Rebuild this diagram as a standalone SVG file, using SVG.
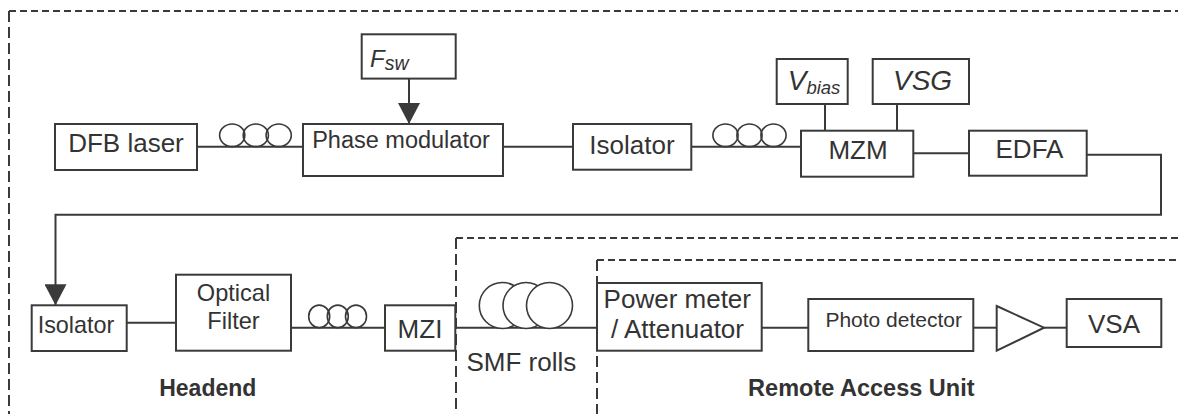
<svg xmlns="http://www.w3.org/2000/svg" width="1178" height="414" viewBox="0 0 1178 414">
<defs>
<style>
.box{fill:#fff;stroke:#3a3a3a;stroke-width:2}
.ln{fill:none;stroke:#3a3a3a;stroke-width:2}
.coil{fill:none;stroke:#3a3a3a;stroke-width:1.6}
.roll{fill:#fff;stroke:#3a3a3a;stroke-width:1.6}
.dh{fill:none;stroke:#3a3a3a;stroke-width:2;stroke-dasharray:7 4}
.dv{fill:none;stroke:#3a3a3a;stroke-width:2;stroke-dasharray:11 5}
text{font-family:"Liberation Sans",Arial,sans-serif;fill:#333;text-anchor:middle}
.it{font-style:italic;text-anchor:start}
.b{font-weight:bold}
</style>
<marker id="arr" markerUnits="userSpaceOnUse" markerWidth="22" markerHeight="22" viewBox="0 0 20 21" refX="20" refY="10.5" orient="auto">
<path d="M0,0 L20,10.5 L0,21 z" fill="#3a3a3a"/>
</marker>
</defs>
<rect width="1178" height="414" fill="#fff"/>

<g id="regions">
<line class="dh" x1="9" y1="11" x2="1178" y2="11"/>
<line class="dv" x1="9" y1="11" x2="9" y2="414"/>
<line class="dh" x1="456" y1="238" x2="1178" y2="238"/>
<line class="dv" x1="456" y1="238" x2="456" y2="414"/>
<line class="dh" x1="597" y1="260" x2="1178" y2="260"/>
<line class="dv" x1="597" y1="260" x2="597" y2="414"/>
</g>

<g id="connectors">
<line class="ln" x1="197" y1="146.7" x2="303" y2="146.7"/>
<line class="ln" x1="409" y1="79" x2="409" y2="124" marker-end="url(#arr)"/>
<line class="ln" x1="503" y1="146.7" x2="573" y2="146.7"/>
<line class="ln" x1="691" y1="146.7" x2="801" y2="146.7"/>
<line class="ln" x1="825" y1="104" x2="825" y2="131"/>
<line class="ln" x1="897" y1="104" x2="897" y2="131"/>
<line class="ln" x1="913" y1="153.3" x2="969" y2="153.3"/>
<path class="ln" d="M1087,154.7 H1161 V214.7 H55.5 V305.3" marker-end="url(#arr)"/>
<line class="ln" x1="127" y1="322.7" x2="176" y2="322.7"/>
<line class="ln" x1="291" y1="327.7" x2="385" y2="327.7"/>
<line class="ln" x1="455" y1="327.7" x2="597" y2="327.7"/>
<line class="ln" x1="762" y1="327.7" x2="808" y2="327.7"/>
<line class="ln" x1="973" y1="327.7" x2="997" y2="327.7"/>
<line class="ln" x1="1044" y1="327.7" x2="1067" y2="327.7"/>
</g>

<g id="coil1">
<ellipse class="coil" cx="232.2" cy="135.3" rx="12.6" ry="11.3"/>
<ellipse class="coil" cx="255.8" cy="135.3" rx="12.6" ry="11.3"/>
<ellipse class="coil" cx="278.7" cy="135.3" rx="12.6" ry="11.3"/>
</g>
<g id="coil2">
<ellipse class="coil" cx="725.5" cy="135.3" rx="12.6" ry="11.3"/>
<ellipse class="coil" cx="749.5" cy="135.3" rx="12.6" ry="11.3"/>
<ellipse class="coil" cx="773.5" cy="135.3" rx="12.6" ry="11.3"/>
</g>
<g id="coil3">
<ellipse class="coil" cx="319.2" cy="316.4" rx="10.5" ry="11.3"/>
<ellipse class="coil" cx="337.8" cy="316.4" rx="10.5" ry="11.3"/>
<ellipse class="coil" cx="356" cy="316.4" rx="10.5" ry="11.3"/>
</g>

<g id="dfb">
<rect class="box" x="55" y="124" width="142" height="46"/>
<text x="126" y="152" font-size="26">DFB laser</text>
</g>
<g id="fsw">
<rect class="box" x="361.7" y="34.3" width="94" height="44.3"/>
<text class="it" x="370" y="66.7" font-size="24">F<tspan font-size="19.5" dy="3.3">sw</tspan></text>
</g>
<g id="phase-modulator">
<rect class="box" x="303" y="124" width="200" height="52"/>
<text x="401" y="148" font-size="23.5">Phase modulator</text>
</g>
<g id="isolator1">
<rect class="box" x="573" y="124" width="118.3" height="45.7"/>
<text x="632" y="154" font-size="26">Isolator</text>
</g>
<g id="vbias">
<rect class="box" x="776.7" y="59" width="71" height="45"/>
<text class="it" x="787.7" y="90" font-size="28">V<tspan font-size="18.5" dy="3.5">bias</tspan></text>
</g>
<g id="vsg">
<rect class="box" x="872.7" y="59" width="96.3" height="45"/>
<text class="it" x="893" y="90" font-size="28">VSG</text>
</g>
<g id="mzm">
<rect class="box" x="801" y="130.7" width="112.3" height="46"/>
<text x="858" y="158.7" font-size="26">MZM</text>
</g>
<g id="edfa">
<rect class="box" x="969" y="130.7" width="117.7" height="45"/>
<text x="1029.5" y="158" font-size="26">EDFA</text>
</g>

<g id="isolator2">
<rect class="box" x="31.7" y="305.3" width="95" height="45.7"/>
<text x="76" y="332.7" font-size="23.4">Isolator</text>
</g>
<g id="optical-filter">
<rect class="box" x="176" y="274.7" width="115" height="76"/>
<text x="233.5" y="301" font-size="23.6">Optical</text>
<text x="233.5" y="329" font-size="23.6">Filter</text>
</g>
<g id="mzi">
<rect class="box" x="385" y="305.3" width="70.3" height="45.4"/>
<text x="420" y="338.3" font-size="26">MZI</text>
</g>
<g id="smf-rolls">
<circle class="roll" cx="502.3" cy="305.5" r="23"/>
<circle class="roll" cx="526" cy="305.5" r="23"/>
<circle class="roll" cx="549.5" cy="305.5" r="23"/>
<text x="521.3" y="371" font-size="26">SMF rolls</text>
</g>
<g id="power-meter">
<rect class="box" x="597" y="283" width="164.7" height="67.7"/>
<text x="677.3" y="308.3" font-size="26">Power meter</text>
<text x="677.5" y="338.3" font-size="26">/ Attenuator</text>
</g>
<g id="photo-detector">
<rect class="box" x="808.3" y="299" width="165" height="52"/>
<text x="893.7" y="326.7" font-size="21">Photo detector</text>
</g>
<g id="amplifier">
<polygon class="box" points="996.7,306 1044,327.7 996.7,350.7"/>
</g>
<g id="vsa">
<rect class="box" x="1066.7" y="299" width="94.6" height="48"/>
<text x="1114" y="332.7" font-size="26">VSA</text>
</g>

<g id="labels">
<text class="b" x="207.8" y="396" font-size="23">Headend</text>
<text class="b" x="861.3" y="396" font-size="23.5">Remote Access Unit</text>
</g>
</svg>
